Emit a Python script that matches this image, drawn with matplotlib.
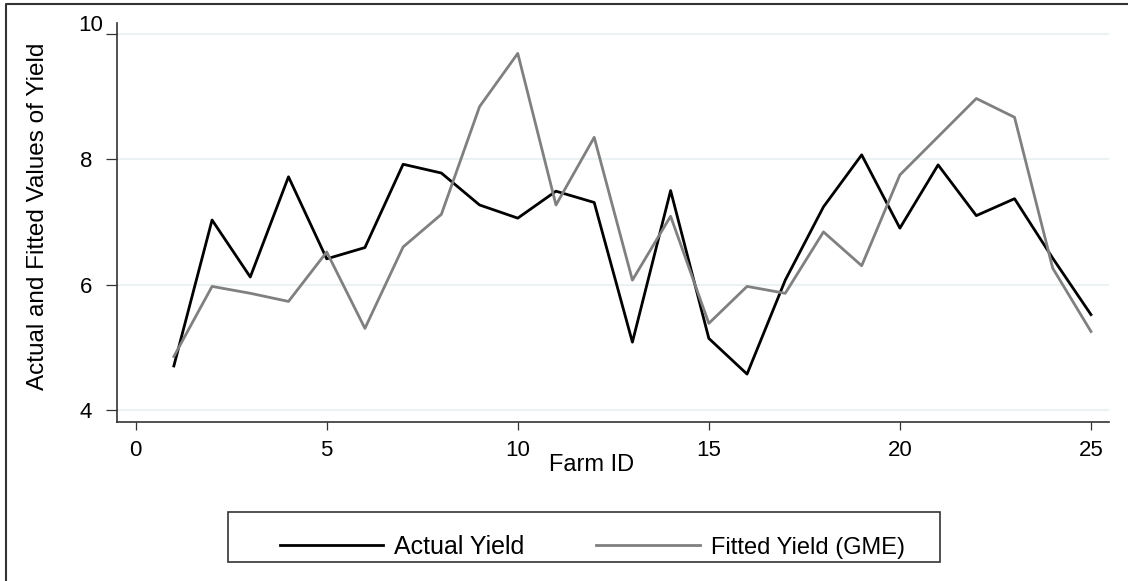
import matplotlib
matplotlib.use("Agg")
import matplotlib.pyplot as plt
from matplotlib.lines import Line2D
from matplotlib.patches import Rectangle
from matplotlib.transforms import ScaledTranslation


FIG_W, FIG_H = 1128, 581

farm_id = list(range(1, 26))

actual_yield = [
    4.70, 7.03, 6.12, 7.72, 6.41, 6.59, 7.92, 7.78, 7.27, 7.06,
    7.49, 7.31, 5.08, 7.50, 5.14, 4.57, 6.07, 7.24, 8.07, 6.90,
    7.91, 7.10, 7.37, 6.42, 5.52,
]

fitted_yield = [
    4.85, 5.97, 5.86, 5.73, 6.52, 5.30, 6.60, 7.12, 8.84, 9.69,
    7.27, 8.35, 6.07, 7.09, 5.38, 5.97, 5.86, 6.84, 6.30, 7.75,
    8.36, 8.97, 8.67, 6.26, 5.25,
]

x_ticks = [0, 5, 10, 15, 20, 25]
y_ticks = [4, 6, 8, 10]

series_labels = ["Actual Yield", "Fitted Yield (GME)"]


def fx(px):
    return px / FIG_W


def fy(py):
    return 1 - py / FIG_H


def main():
    plt.rcParams["font.family"] = ["Liberation Sans", "DejaVu Sans"]

    fig = plt.figure(figsize=(FIG_W / 100, FIG_H / 100), dpi=100)
    ax = fig.add_axes([fx(117.3), fy(421.7), fx(1109.3 - 117.3), (421.7 - 22.7) / FIG_H])

    line_actual, = ax.plot(farm_id, actual_yield, color="black", lw=2.0, zorder=3)
    line_fitted, = ax.plot(farm_id, fitted_yield, color="#808080", lw=2.0, zorder=4)

    ax.set_xlim(-0.48, 25.48)
    ax.set_ylim(3.81, 10.18)
    ax.set_xticks(x_ticks)
    ax.set_yticks(y_ticks)
    ax.set_xticklabels([str(v) for v in x_ticks])
    ax.set_yticklabels([str(v) for v in y_ticks])

    ax.set_axisbelow(True)
    ax.grid(axis="y", color="#eaf2f3", lw=1.5)
    ax.grid(axis="x", visible=False)

    for side in ["top", "right"]:
        ax.spines[side].set_visible(False)
    for side in ["left", "bottom"]:
        ax.spines[side].set_color("#333333")
        ax.spines[side].set_linewidth(1.2)

    ax.tick_params(axis="x", length=6, width=0.9, color="#333333", pad=7, labelsize=16)
    ax.tick_params(axis="y", length=8, width=0.9, color="#333333", pad=10, labelsize=16)

    # Stata nudges the top y label up and to the right
    top_label = ax.yaxis.get_major_ticks()[-1].label1
    top_label.set_transform(
        top_label.get_transform() + ScaledTranslation(0.11, 0.105, fig.dpi_scale_trans)
    )

    fig.text(fx(38.5), fy(216), "Actual and Fitted Values of Yield",
             rotation=90, ha="center", va="center", fontsize=17.5)
    fig.text(fx(592), fy(465), "Farm ID", ha="center", va="center", fontsize=17)

    # legend box drawn separately so the padding matches
    fig.patches.append(Rectangle((fx(228), fy(562)), fx(940 - 228), 50 / FIG_H,
                                 transform=fig.transFigure, fill=False,
                                 edgecolor="#333333", lw=1.2))
    leg = fig.legend([line_actual, line_fitted], series_labels, ncol=2,
                     loc="center left", bbox_to_anchor=(fx(268), fy(547)),
                     frameon=False, borderpad=0, fontsize=17.5,
                     handlelength=4.25, handletextpad=0.45, columnspacing=2.95)
    leg.get_texts()[0].set_fontsize(18)
    leg.get_texts()[1].set_fontsize(17)

    # outer graph region border (left and top only)
    fig.add_artist(Line2D([fx(6), fx(6), 1], [0, fy(4), fy(4)],
                          transform=fig.transFigure, color="#333333", lw=1.5))

    fig.savefig("out.png", dpi=100, facecolor="white")
    plt.close(fig)


if __name__ == "__main__":
    main()
